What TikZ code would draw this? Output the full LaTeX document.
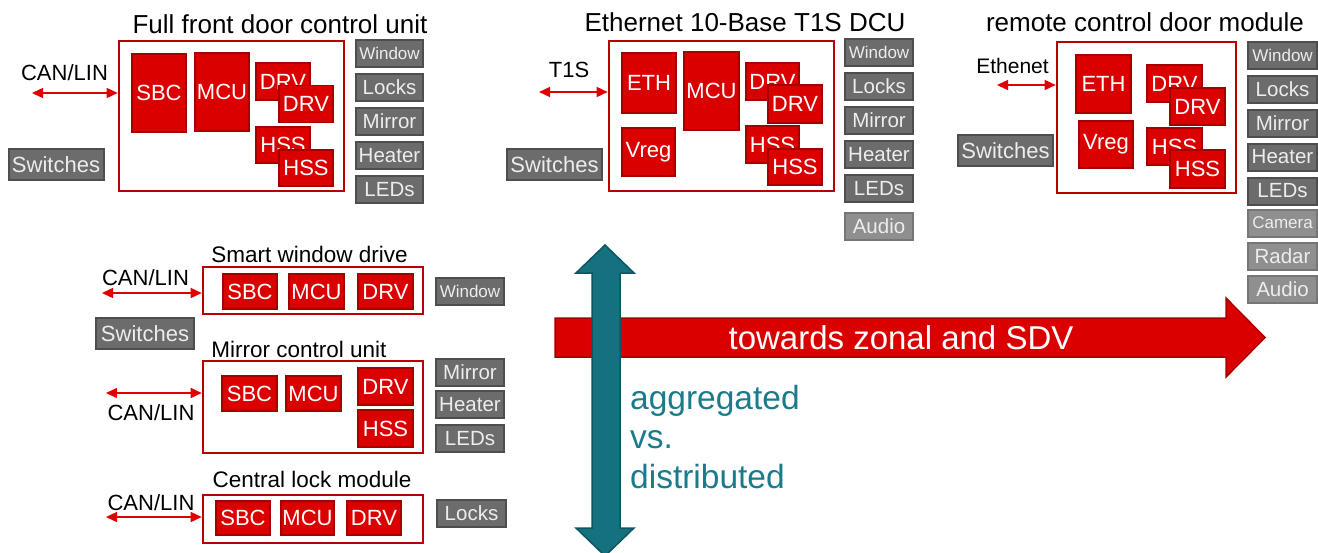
\documentclass[tikz,border=0pt]{standalone}
\usepackage{fontspec}
\setmainfont{Liberation Sans}
\usetikzlibrary{positioning,arrows.meta}
\definecolor{chipred}{RGB}{218,0,0}
\definecolor{chipedge}{RGB}{165,0,0}
\definecolor{boxred}{RGB}{185,0,0}
\definecolor{busred}{RGB}{225,0,0}
\definecolor{loadgray}{RGB}{108,108,108}
\definecolor{loadedge}{RGB}{78,78,78}
\definecolor{lightgray}{RGB}{143,143,143}
\definecolor{lightedge}{RGB}{118,118,118}
\definecolor{tealfill}{RGB}{22,113,127}
\definecolor{tealedge}{RGB}{13,86,97}
\definecolor{tealtext}{RGB}{27,123,139}

\begin{document}
\begin{tikzpicture}[x=1pt,y=-1pt,
    unit/.style={draw=boxred,line width=2.6pt,fill=white,inner sep=0pt},
    chip/.style={draw=chipedge,fill=chipred,line width=1.8pt,text=white,inner sep=0pt,
                 font=\fontsize{22}{22}\selectfont},
    load/.style={draw=loadedge,fill=loadgray,line width=2pt,text=white!93!black,inner sep=0pt,
                 outer sep=0pt,minimum height=27pt,font=\fontsize{20.5}{20.5}\selectfont},
    smallload/.style={load,font=\fontsize{17}{17}\selectfont},
    extra/.style={load,draw=lightedge,fill=lightgray},
    ttl/.style={inner sep=0pt,font=\fontsize{26}{26}\selectfont},
    subttl/.style={inner sep=0pt,font=\fontsize{22.5}{22.5}\selectfont},
    busname/.style={inner sep=0pt,font=\fontsize{22}{22}\selectfont},
    bus/.style={draw=busred,line width=1.5pt,{Triangle[length=11pt,width=10pt]}-{Triangle[length=11pt,width=10pt]}}]
\useasboundingbox (0,0) rectangle (1318,552);

% full front door control unit
\node[ttl] (ttlA) at (280,24) {Full front door control unit};
\node[unit,minimum width=225pt,minimum height=150pt] (unitA) at (231.5,116) {};
\node[chip,minimum width=54pt,minimum height=78pt] (sbcA) at (159,93) {SBC};
\node[chip,minimum width=54pt,minimum height=78pt] (mcuA) at (222,92) {MCU};
\node[chip,minimum width=54pt,minimum height=37pt] (drvA) at (283,81.5) {DRV};
\node[chip,minimum width=54pt,minimum height=37pt] (drvAA) at (306,104) {DRV};
\node[chip,minimum width=54pt,minimum height=36pt] (hssA) at (283,145) {HSS};
\node[chip,minimum width=54pt,minimum height=36pt] (hssAA) at (306,168) {HSS};
\node[busname] (canA) at (64.5,73) {CAN/LIN};
\coordinate (endA) at (32,93);
\draw[bus] (endA) -- (endA -| unitA.west);
\node[load,minimum width=95pt,minimum height=31pt,font=\fontsize{22}{22}\selectfont] (swA) at (56,164.5) {Switches};
\node[smallload,minimum width=67pt] (winA) at (389.5,53.5) {Window};
\node[load,minimum width=67pt,below=7pt of winA] (lockA) {Locks};
\node[load,minimum width=67pt,below=7pt of lockA] (mirA) {Mirror};
\node[load,minimum width=67pt,below=7pt of mirA] (heatA) {Heater};
\node[load,minimum width=67pt,below=7pt of heatA] (ledA) {LEDs};

% ethernet 10-base T1S DCU
\node[ttl] (ttlB) at (745,22) {Ethernet 10-Base T1S DCU};
\node[unit,minimum width=225pt,minimum height=150pt] (unitB) at (721.5,116) {};
\node[chip,minimum width=54pt,minimum height=60pt] (ethB) at (649,83) {ETH};
\node[chip,minimum width=53pt,minimum height=48pt] (vregB) at (648.5,152) {Vreg};
\node[chip,minimum width=55pt,minimum height=78pt] (mcuB) at (711.5,91) {MCU};
\node[chip,minimum width=53pt,minimum height=37pt] (drvB) at (772.5,81.5) {DRV};
\node[chip,minimum width=54pt,minimum height=38pt] (drvBB) at (795,104) {DRV};
\node[chip,minimum width=53pt,minimum height=37pt] (hssB) at (772.5,144.5) {HSS};
\node[chip,minimum width=54pt,minimum height=36pt] (hssBB) at (795,167) {HSS};
\node[busname] (t1sB) at (569,70) {T1S};
\coordinate (endB) at (539,92);
\draw[bus] (endB) -- (endB -| unitB.west);
\node[load,minimum width=95pt,minimum height=31pt,font=\fontsize{22}{22}\selectfont] (swB) at (554.5,164.5) {Switches};
\node[smallload,minimum width=68pt] (winB) at (879,52.5) {Window};
\node[load,minimum width=68pt,below=7pt of winB] (lockB) {Locks};
\node[load,minimum width=68pt,below=7pt of lockB] (mirB) {Mirror};
\node[load,minimum width=68pt,below=7pt of mirB] (heatB) {Heater};
\node[load,minimum width=68pt,below=7pt of heatB] (ledB) {LEDs};
\node[extra,minimum width=68pt,below=11pt of ledB] (audB) {Audio};

% remote control door module
\node[ttl] (ttlC) at (1145,22) {remote control door module};
\node[unit,minimum width=179pt,minimum height=151pt] (unitC) at (1146.5,117.5) {};
\node[chip,minimum width=55pt,minimum height=58pt] (ethC) at (1103.5,84) {ETH};
\node[chip,minimum width=54pt,minimum height=47pt] (vregC) at (1106,144.5) {Vreg};
\node[chip,minimum width=55pt,minimum height=37pt] (drvC) at (1174.5,83.5) {DRV};
\node[chip,minimum width=55pt,minimum height=37pt] (drvCC) at (1197.5,106.5) {DRV};
\node[chip,minimum width=55pt,minimum height=37pt] (hssC) at (1174.5,146.5) {HSS};
\node[chip,minimum width=55pt,minimum height=38pt] (hssCC) at (1197.5,169) {HSS};
\node[busname,font=\fontsize{21}{21}\selectfont] (ethnC) at (1012.5,66) {Ethenet};
\coordinate (endC) at (997,85);
\draw[bus] (endC) -- (endC -| unitC.west);
\node[load,minimum width=95pt,minimum height=31pt,font=\fontsize{22}{22}\selectfont] (swC) at (1005.5,150.5) {Switches};
\node[smallload,minimum width=69pt] (winC) at (1282.5,55) {Window};
\node[load,minimum width=69pt,below=7pt of winC] (lockC) {Locks};
\node[load,minimum width=69pt,below=7pt of lockC] (mirC) {Mirror};
\node[load,minimum width=69pt,below=7pt of mirC] (heatC) {Heater};
\node[load,minimum width=69pt,below=7pt of heatC] (ledC) {LEDs};
\node[extra,minimum width=69pt,font=\fontsize{17}{17}\selectfont,below=5pt of ledC] (camC) {Camera};
\node[extra,minimum width=69pt,below=6pt of camC] (radC) {Radar};
\node[extra,minimum width=69pt,below=6pt of radC] (audC) {Audio};

% smart window drive
\node[subttl] (ttlD) at (309.5,254) {Smart window drive};
\node[unit,minimum width=220pt,minimum height=47pt] (unitD) at (313,290.5) {};
\node[chip,minimum width=54pt,minimum height=35pt] (sbcD) at (250,291.5) {SBC};
\node[chip,minimum width=55pt,minimum height=35pt] (mcuD) at (316.5,291.5) {MCU};
\node[chip,minimum width=55pt,minimum height=35pt] (drvD) at (385.5,291.5) {DRV};
\node[busname] (canD) at (145.5,278) {CAN/LIN};
\coordinate (endD) at (102,293);
\draw[bus] (endD) -- (endD -| unitD.west);
\node[load,minimum width=98pt,minimum height=31pt,font=\fontsize{22}{22}\selectfont] (swD) at (145,333.5) {Switches};
\node[smallload,minimum width=68pt] (winD) at (470,291.5) {Window};

% mirror control unit
\node[subttl] (ttlE) at (299,349) {Mirror control unit};
\node[unit,minimum width=220pt,minimum height=92pt] (unitE) at (313,407) {};
\node[chip,minimum width=55pt,minimum height=35pt] (sbcE) at (249.5,393.5) {SBC};
\node[chip,minimum width=55pt,minimum height=35pt] (mcuE) at (313.5,393.5) {MCU};
\node[chip,minimum width=55pt,minimum height=37pt] (drvE) at (385.5,386.5) {DRV};
\node[chip,minimum width=55pt,minimum height=37pt] (hssE) at (385.5,428.5) {HSS};
\node[busname] (canE) at (151,413) {CAN/LIN};
\coordinate (endE) at (106,393);
\draw[bus] (endE) -- (endE -| unitE.west);
\node[load,minimum width=68pt] (mirE) at (470,372.5) {Mirror};
\node[load,minimum width=68pt,below=5pt of mirE] (heatE) {Heater};
\node[load,minimum width=68pt,below=7pt of heatE] (ledE) {LEDs};

% central lock module
\node[subttl] (ttlF) at (312,479) {Central lock module};
\node[unit,minimum width=220pt,minimum height=48pt] (unitF) at (313,519) {};
\node[chip,minimum width=54pt,minimum height=34pt] (sbcF) at (243,518) {SBC};
\node[chip,minimum width=53pt,minimum height=34pt] (mcuF) at (307.5,518) {MCU};
\node[chip,minimum width=54pt,minimum height=34pt] (drvF) at (374,518) {DRV};
\node[busname] (canF) at (151,503) {CAN/LIN};
\coordinate (endF) at (106,517);
\draw[bus] (endF) -- (endF -| unitF.west);
\node[load,minimum width=69pt] (lockF) at (471.5,513.5) {Locks};

% the two big arrows
\filldraw[fill=chipred,draw=chipedge,line width=1.5pt]
  (555,318) -- (1226,318) -- (1226,298) -- (1265,337.5) -- (1226,377) -- (1226,357) -- (555,357) -- cycle;
\node[text=white,inner sep=0pt,font=\fontsize{33}{33}\selectfont] (zonal) at (901,338) {towards zonal and SDV};
\filldraw[fill=tealfill,draw=tealedge,line width=1.5pt]
  (592,273) -- (576,273) -- (605,245) -- (634,273) -- (620,273) -- (620,528)
  -- (634,528) -- (605,556) -- (576,528) -- (592,528) -- cycle;
\node[text=tealtext,inner sep=0pt,anchor=west,align=left,font=\fontsize{33.5}{39.5}\selectfont]
  (aggr) at (630,437) {aggregated\\vs.\\distributed};
\end{tikzpicture}
\end{document}
